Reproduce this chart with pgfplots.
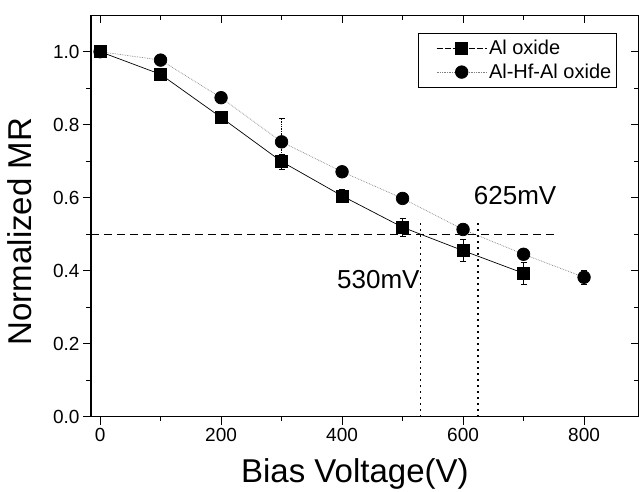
\documentclass[border=0pt]{standalone}
\usepackage{pgfplots}
\pgfplotsset{compat=1.18}
\usepackage{fontspec}
\setmainfont{Liberation Sans}
\begin{document}
\begin{tikzpicture}
\pgfplotsset{
  base/.style={
    scale only axis, width=547.5pt, height=401.5pt,
    xmin=-15, xmax=890, ymin=0, ymax=1.1,
    xtick={0,200,400,600,800}, minor xtick={100,300,500,700},
    ytick={0,0.2,0.4,0.6,0.8,1.0}, minor ytick={0.1,0.3,0.5,0.7,0.9},
    major tick length=8pt, minor tick length=4.5pt,
    every tick/.style={black, line width=1pt},
    axis line style={line width=1.2pt},
  }
}
\begin{axis}[base, axis x line*=top, axis y line*=right, tick align=inside, xticklabels={}, yticklabels={}]
\addplot[draw=none] coordinates {(0,0)};
\end{axis}
\begin{axis}[base, axis x line*=bottom, axis y line*=left, tick align=outside,
  tick label style={font=\fontsize{19}{22}\selectfont},
  /pgf/number format/assume math mode=true,
  yticklabel={\pgfmathprintnumber[fixed,fixed zerofill,precision=1,assume math mode=true]{\tick}},
  xlabel={Bias Voltage(V)}, ylabel={Normalized MR},
  xlabel style={font=\fontsize{33}{38}\selectfont, at={(axis description cs:0.482,0)}, anchor=base, yshift=-66pt},
  ylabel style={font=\fontsize{33}{38}\selectfont, at={(axis description cs:-0.1078,0.461)}, anchor=base},
  legend style={at={(axis description cs:0.9602,0.9564)}, anchor=north east, font=\fontsize{20}{24}\selectfont, draw=black, line width=0.8pt, inner xsep=3pt, inner ysep=5pt, row sep=4pt},
  legend cell align=left,
  legend image code/.code={\path (-15pt,0pt); \draw[mark repeat=2,mark phase=2] plot coordinates {(0pt,0pt) (25pt,0pt) (50pt,0pt)};},
  error bars/y dir=both, error bars/y explicit,
  error bars/error bar style={line width=0.6pt, black},
  error bars/error mark options={rotate=90, mark size=3pt, line width=0.6pt},
]
\addplot[black, line width=0.7pt, mark=square*, mark size=6pt, mark options={solid, fill=black},
  legend image code/.code={\path (-15pt,0pt); \draw[dash pattern=on 6pt off 2pt,mark repeat=2,mark phase=2] plot coordinates {(0pt,0pt) (25pt,0pt) (50pt,0pt)};}]
  coordinates {
  (0,1.0) +- (0,0.005)
  (100,0.938) +- (0,0.01)
  (200,0.820) +- (0,0.012)
  (300,0.699) +- (0,0.02)
  (400,0.605) +- (0,0.018)
  (500,0.519) +- (0,0.025)
  (600,0.455) +- (0,0.03)
  (700,0.393) +- (0,0.03)
  };
\addlegendentry{Al oxide}
\addplot[gray, line width=0.7pt, densely dotted, mark=*, mark size=6.3pt, mark options={solid, fill=black, draw=black}]
  coordinates {
  (0,1.0) +- (0,0.005)
  (100,0.977) +- (0,0.008)
  (200,0.874) +- (0,0.01)
  (300,0.753) +- (0,0.065)
  (400,0.671) +- (0,0.01)
  (500,0.598) +- (0,0.01)
  (600,0.513) +- (0,0.012)
  (700,0.445) +- (0,0.012)
  (800,0.382) +- (0,0.02)
  };
\addlegendentry{Al-Hf-Al oxide}
\addplot[black, line width=1.2pt, dash pattern=on 8pt off 5pt, forget plot] coordinates {(-15,0.5) (750,0.5)};
\addplot[black, line width=1.4pt, dash pattern=on 1.4pt off 4.6pt, forget plot] coordinates {(530,0) (530,0.53)};
\addplot[black, line width=1.4pt, dash pattern=on 1.4pt off 4.6pt, forget plot] coordinates {(625,0) (625,0.535)};
\node[font=\fontsize{26}{30}\selectfont] at (axis cs:686,0.607) {625mV};
\node[font=\fontsize{26}{30}\selectfont] at (axis cs:460,0.375) {530mV};
\end{axis}
\pgfresetboundingbox
\path (-91pt,-74.3pt) rectangle (548pt,416.7pt);
\end{tikzpicture}
\end{document}
